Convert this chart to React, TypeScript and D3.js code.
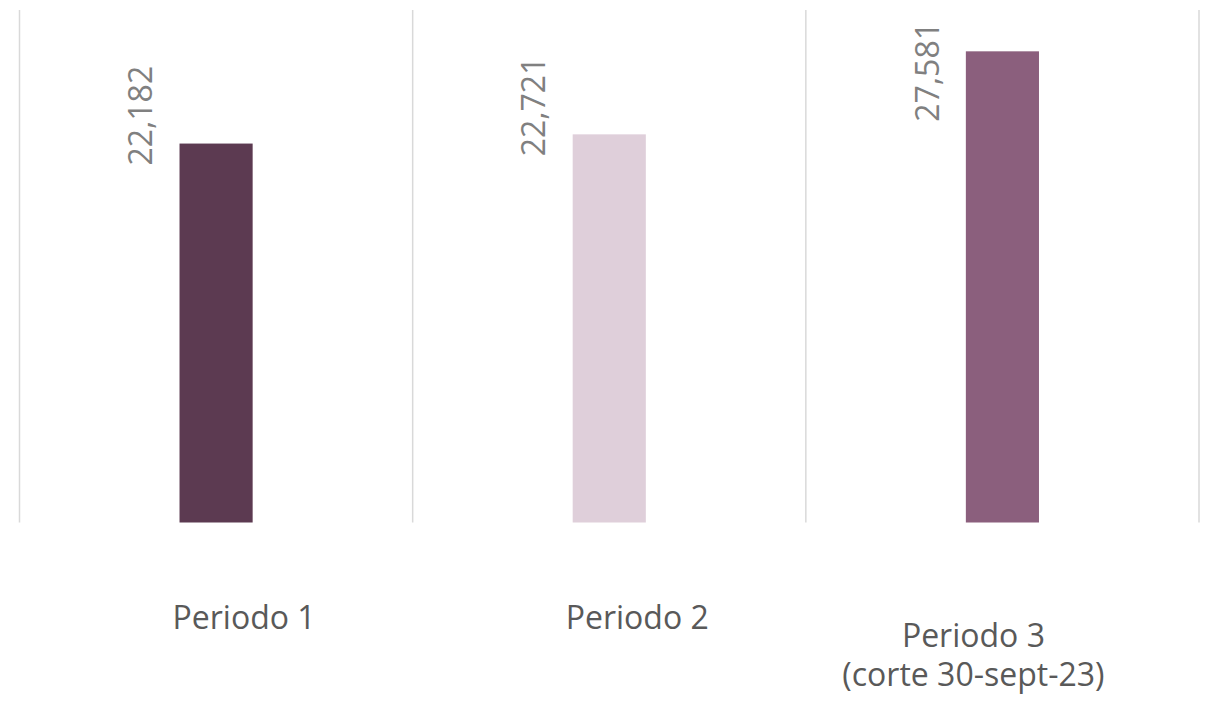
import * as d3 from "d3";
import { useEffect, useRef } from "react";

const categories = ["Periodo 1", "Periodo 2", "Periodo 3\n(corte 30-sept-23)"];
const values = [22182, 22721, 27581];
const barColors = ["#5C3A51", "#DFCFDA", "#8B5F7D"];

const W = 1210;
const H = 701;
const margin = { top: 10, right: 11, bottom: 178.5, left: 19.5 };

export default function App() {
  const svgRef = useRef<SVGSVGElement>(null);

  useEffect(() => {
    const svg = d3.select(svgRef.current);
    svg.selectAll("*").remove();

    const x = d3
      .scaleBand<string>()
      .domain(categories)
      .range([margin.left, W - margin.right])
      .padding(0);
    const y = d3
      .scaleLinear()
      .domain([0, 30000])
      .range([H - margin.bottom, margin.top]);

    const barW = x.bandwidth() * 0.186;
    const cx = (c: string) => (x(c) ?? 0) + x.bandwidth() / 2;

    // category separators
    const edges = categories.map((c) => x(c) ?? 0).concat([x.range()[1]]);
    svg
      .selectAll(".grid")
      .data(edges)
      .join("line")
      .attr("class", "grid")
      .attr("x1", (d) => d)
      .attr("x2", (d) => d)
      .attr("y1", y(30000))
      .attr("y2", y(0))
      .attr("stroke", "#D9D9D9")
      .attr("stroke-width", 1.5);

    svg
      .selectAll(".bar")
      .data(values)
      .join("rect")
      .attr("class", "bar")
      .attr("x", (_, i) => cx(categories[i]) - barW / 2)
      .attr("y", (d) => y(d))
      .attr("width", barW)
      .attr("height", (d) => y(0) - y(d))
      .attr("fill", (_, i) => barColors[i]);

    // value labels, rotated, sitting left of the bar and kept inside the plot top
    const labels = svg
      .selectAll(".val")
      .data(values)
      .join("text")
      .attr("class", "val")
      .attr("font-family", "'Open Sans', sans-serif")
      .attr("font-size", 32)
      .attr("fill", "#808080")
      .attr("dy", "0.35em")
      .text((d) => d3.format(",")(d));

    labels.each(function (d, i) {
      const len = (this as SVGTextElement).getComputedTextLength();
      const yb = Math.max(y(d) + 22, margin.top + 12 + len);
      d3.select(this).attr(
        "transform",
        `translate(${cx(categories[i]) - 75},${yb}) rotate(-90)`
      );
    });

    // category labels
    svg
      .selectAll(".cat")
      .data(categories)
      .join("text")
      .attr("class", "cat")
      .attr("font-family", "'Open Sans', sans-serif")
      .attr("font-size", 32)
      .attr("fill", "#595959")
      .attr("text-anchor", "middle")
      .each(function (c) {
        const lines = c.split("\n");
        const nudge = lines.length > 1 ? -29 : 28;
        const base = lines.length > 1 ? 647 : 629;
        d3.select(this)
          .selectAll("tspan")
          .data(lines)
          .join("tspan")
          .attr("x", cx(c) + nudge)
          .attr("y", (_, j) => base + j * 39)
          .text((t) => t);
      });
  }, []);

  return (
    <svg
      ref={svgRef}
      width={W}
      height={H}
      style={{ position: "absolute", left: 0, top: 0, background: "#fff" }}
    />
  );
}
